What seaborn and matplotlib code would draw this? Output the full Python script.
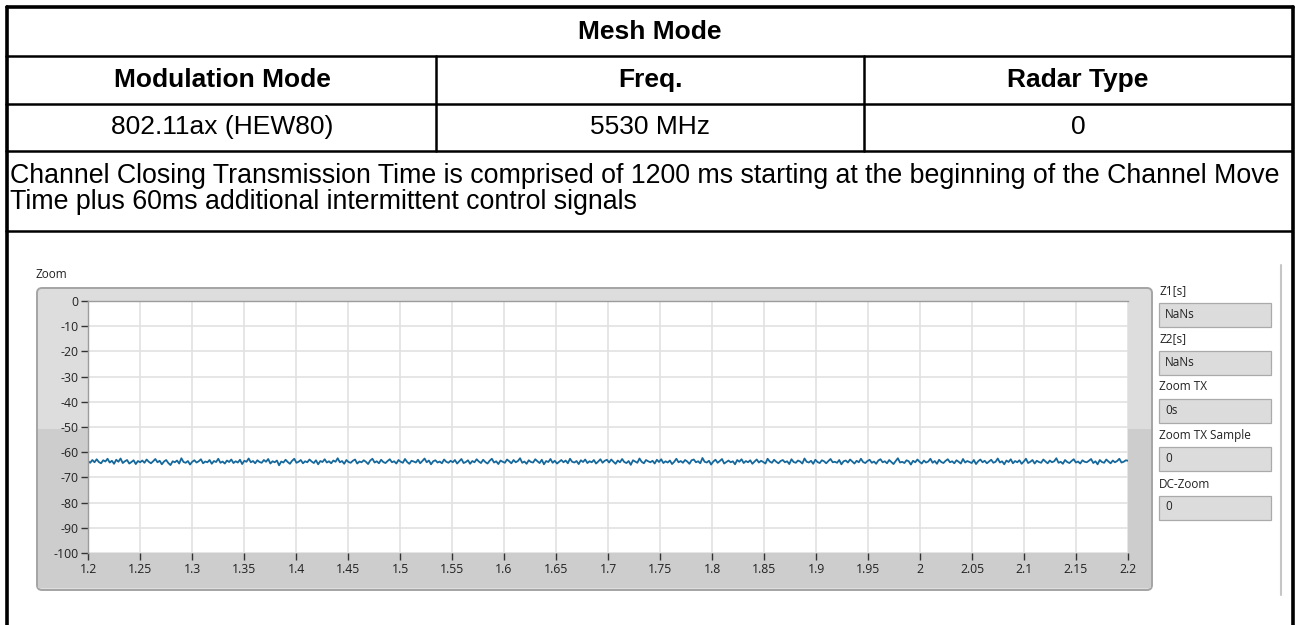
import numpy as np
import seaborn as sns
import matplotlib.pyplot as plt
from matplotlib.lines import Line2D
from matplotlib.patches import Rectangle, FancyBboxPatch

# table content
title = "Mesh Mode"
headers = ["Modulation Mode", "Freq.", "Radar Type"]
values_row = ["802.11ax (HEW80)", "5530 MHz", "0"]
description = ["Channel Closing Transmission Time is comprised of 1200 ms starting at the beginning of the Channel Move",
               "Time plus 60ms additional intermittent control signals"]

# zoom graph
t_start, t_end = 1.2, 2.2
y_ticks = [0, -10, -20, -30, -40, -50, -60, -70, -80, -90, -100]
x_ticks = [1.2, 1.25, 1.3, 1.35, 1.4, 1.45, 1.5, 1.55, 1.6, 1.65, 1.7, 1.75, 1.8, 1.85, 1.9, 1.95,
           2.0, 2.05, 2.1, 2.15, 2.2]
level = [
    -63.5, -64.2, -63.1, -64.0, -62.8, -63.9, -64.4, -63.2, -63.7, -62.6, -64.1, -63.4, -64.6, -63.0, -63.8, -62.5, -64.3, -63.6, -63.1, -64.5,
    -63.9, -63.2, -64.7, -63.5, -64.0, -63.3, -64.2, -62.9, -63.8, -64.4, -63.6, -62.7, -64.0, -63.4, -64.8, -63.7, -63.1, -64.3, -65.1, -63.6,
    -64.0, -63.3, -64.5, -62.4, -63.9, -64.2, -63.5, -64.9, -63.8, -63.2, -64.1, -63.6, -62.8, -64.4, -63.7, -64.0, -63.1, -64.6, -63.5, -63.9,
    -62.6, -64.2, -63.7, -64.5, -63.3, -63.9, -62.9, -64.3, -63.6, -64.1, -63.0, -64.7, -63.4, -63.8, -62.5, -64.0, -63.5, -64.4, -63.2, -63.9,
    -64.2, -63.1, -63.8, -62.7, -64.5, -63.6, -64.0, -63.3, -65.2, -63.7, -64.1, -63.0, -63.9, -64.6, -63.4, -62.6, -64.2, -63.8, -63.1, -64.4,
    -63.6, -64.0, -62.9, -63.7, -64.3, -63.2, -64.8, -63.5, -63.9, -62.8, -64.1, -63.6, -64.4, -63.3, -63.8, -62.4, -64.0, -63.5, -64.6, -63.1,
    -63.9, -64.2, -63.4, -62.9, -64.5, -63.7, -64.0, -63.2, -63.8, -64.7, -63.3, -62.6, -64.1, -63.6, -64.4, -63.0, -63.9, -64.3, -63.5, -62.8,
    -64.0, -63.6, -64.5, -63.1, -63.8, -64.2, -62.7, -63.9, -64.6, -63.4, -63.7, -64.1, -63.0, -64.4, -63.5, -62.5, -64.0, -63.3, -64.8, -63.6,
    -63.2, -64.1, -63.7, -64.4, -62.9, -63.8, -64.2, -63.4, -64.0, -63.1, -64.5, -63.6, -62.7, -64.3, -63.9, -63.2, -64.6, -63.5, -64.0, -62.8,
    -63.7, -64.3, -63.0, -63.9, -64.5, -63.4, -62.6, -64.1, -63.6, -64.7, -63.3, -63.8, -64.2, -62.9, -63.6, -64.4, -63.1, -64.0, -63.5, -62.4,
    -64.2, -63.7, -64.6, -63.2, -63.9, -64.1, -62.8, -63.6, -64.3, -63.0, -64.8, -63.5, -63.9, -62.7, -64.2, -63.4, -64.5, -63.8, -63.1, -64.0,
    -63.3, -64.4, -62.6, -63.8, -64.1, -63.5, -64.7, -63.2, -63.9, -62.9, -64.3, -63.6, -64.0, -63.1, -64.5, -63.7, -62.8, -64.2, -63.4, -63.0,
    -64.1, -62.9, -63.8, -64.6, -63.3, -64.0, -62.7, -63.9, -64.3, -63.5, -65.0, -63.2, -63.7, -64.2, -62.5, -63.8, -64.4, -63.1, -63.6, -64.0,
    -63.4, -64.5, -63.0, -63.9, -62.8, -64.3, -63.6, -64.1, -63.3, -64.7, -63.8, -62.6, -64.0, -63.5, -64.2, -63.1, -63.7, -64.6, -63.2, -62.9,
    -64.0, -63.6, -64.4, -62.3, -63.8, -64.1, -63.4, -64.9, -63.7, -63.0, -64.2, -63.5, -62.7, -64.5, -63.9, -63.3, -64.0, -63.6, -64.8, -63.1,
    -63.8, -62.8, -64.3, -63.5, -64.0, -63.2, -64.6, -63.7, -62.9, -64.1, -63.4, -63.9, -64.5, -62.6, -63.7, -64.2, -63.0, -63.8, -64.4, -63.5,
    -63.1, -64.0, -63.6, -64.7, -62.8, -63.9, -64.2, -63.3, -63.7, -64.5, -62.5, -63.8, -64.1, -63.4, -64.6, -63.0, -63.9, -64.3, -63.2, -63.6,
    -64.4, -63.5, -62.7, -64.0, -63.8, -64.2, -63.1, -64.8, -63.6, -63.3, -64.1, -62.9, -63.7, -64.5, -63.4, -64.0, -62.6, -63.9, -64.3, -63.5,
    -63.0, -64.2, -63.7, -64.6, -63.3, -62.8, -64.0, -63.6, -64.4, -63.1, -63.9, -64.7, -63.5, -62.4, -64.1, -63.8, -64.3, -63.2, -63.6, -64.9,
    -63.4, -64.0, -62.9, -63.8, -64.5, -63.3, -64.1, -63.7, -62.6, -64.2, -63.5, -64.6, -63.0, -63.9, -64.3, -63.4, -62.8, -64.0, -63.6, -64.4,
    -63.2, -63.8, -64.5, -62.7, -64.1, -63.5, -63.9, -64.3, -63.1, -64.7, -63.6, -62.9, -64.0, -63.4, -64.4, -63.7, -63.0, -64.2, -63.8, -62.5,
    -64.1, -63.6, -64.8, -63.3, -63.9, -62.8, -64.4, -63.5, -64.0, -63.2, -64.6, -63.7, -62.6, -64.3, -63.8, -63.1, -64.5, -63.4, -63.9, -64.2,
    -62.9, -63.7, -64.4, -63.3, -64.0, -63.6, -62.4, -64.2, -63.8, -64.6, -63.1, -63.9, -64.3, -63.5, -62.8, -64.1, -63.7, -64.5, -63.2, -63.8,
    -64.0, -63.4, -62.7, -64.3, -63.6, -64.8, -63.1, -63.9, -64.2, -62.9, -63.7, -64.4, -63.3, -64.0, -63.5, -62.6, -64.1, -63.8, -63.2, -63.4,
]
times = np.linspace(t_start, t_end, len(level))

# side indicators
ind_labels = ["Z1[s]", "Z2[s]", "Zoom TX", "Zoom TX Sample", "DC-Zoom"]
ind_values = ["NaNs", "NaNs", "0s", "0", "0"]

W, H = 1295, 625
def fx(x):
    return x / W
def fy(y):
    return 1 - y / H

sns.set_style("white")
plt.rcParams['axes.unicode_minus'] = False
tbl_font = ['Liberation Sans', 'DejaVu Sans']
lv_font = ['Open Sans', 'DejaVu Sans']

fig = plt.figure(figsize=(W / 100, H / 100), dpi=100)
fig.patch.set_facecolor('white')

def hline(y, x0, x1, lw=1.8):
    fig.add_artist(Line2D([fx(x0), fx(x1)], [fy(y), fy(y)], color='black', lw=lw, transform=fig.transFigure))
def vline(x, y0, y1, lw=1.8):
    fig.add_artist(Line2D([fx(x), fx(x)], [fy(y0), fy(y1)], color='black', lw=lw, transform=fig.transFigure))

# table grid
hline(6.5, 6.5, 1292.5, lw=2.6)
vline(6.5, 6.5, 625, lw=2.6)
vline(1292.5, 6.5, 625, lw=2.6)
hline(55.5, 6, 1292)
hline(103.5, 6, 1292)
hline(150.5, 6, 1292)
hline(230.5, 6, 1292)
vline(436, 55.5, 150.5)
vline(864, 55.5, 150.5)

fs = 19
fig.text(fx(650), fy(32), title, ha='center', va='center', fontsize=fs, fontweight='bold',
         family=tbl_font, color='black')
col_x = [222, 650, 1078]
for cx, h, v in zip(col_x, headers, values_row):
    fig.text(fx(cx), fy(80), h, ha='center', va='center', fontsize=fs, fontweight='bold',
             family=tbl_font, color='black')
    fig.text(fx(cx), fy(127), v, ha='center', va='center', fontsize=fs, family=tbl_font, color='black')
fig.text(fx(10), fy(176), description[0], ha='left', va='center', fontsize=19.3, family=tbl_font, color='black')
fig.text(fx(10), fy(202), description[1], ha='left', va='center', fontsize=19.3, family=tbl_font, color='black')

# graph frame
fig.text(fx(35), fy(274), "Zoom", ha='left', va='center', fontsize=8.5, family=lv_font, color='#222222')
frame = FancyBboxPatch((fx(37), fy(590)), fx(1152 - 37), (590 - 288) / H,
                       boxstyle="round,pad=0,rounding_size=%f" % (5 / W), mutation_aspect=W / H,
                       facecolor='#dddddd', edgecolor='#a4a4a4', lw=1.4, transform=fig.transFigure)
fig.add_artist(frame)
fig.add_artist(Rectangle((fx(38), fy(588)), fx(1151 - 38), (588 - 429) / H,
                         facecolor='#cdcdcd', edgecolor='none', transform=fig.transFigure))
fig.add_artist(Line2D([fx(1281), fx(1281)], [fy(265), fy(595)], color='#c6c6c6', lw=1.5,
                      transform=fig.transFigure))

ax = fig.add_axes([fx(88), fy(553), (1128 - 88) / W, (553 - 301) / H])
ax.set_zorder(5)
ax.set_facecolor('white')
sns.lineplot(x=times, y=level, ax=ax, color='#15689c', lw=1.3, estimator=None, sort=False)
ax.set_xlim(t_start, t_end)
ax.set_ylim(-100, 0)
ax.set_xticks(x_ticks)
ax.set_xticklabels([f"{round(v, 2):g}" for v in x_ticks])
ax.set_yticks(y_ticks)
ax.set_yticklabels([str(v) for v in y_ticks])
ax.grid(True, color='#e2e2e2', lw=1.2)
ax.set_axisbelow(True)
for s in ['right', 'bottom']:
    ax.spines[s].set_visible(False)
for s in ['left', 'top']:
    ax.spines[s].set_color('#9c9c9c')
    ax.spines[s].set_linewidth(1.0)
ax.tick_params(axis='both', direction='out', length=5, width=1, color='#333333',
               labelsize=8.8, labelcolor='#222222', pad=2)
ax.tick_params(left=True, bottom=True)
for lab in ax.get_xticklabels() + ax.get_yticklabels():
    lab.set_family(lv_font)
ax.set_xlabel('')
ax.set_ylabel('')

# side indicators
label_y = [291, 339, 387, 435, 484]
for ly, lab, val in zip(label_y, ind_labels, ind_values):
    fig.text(fx(1159), fy(ly), lab, ha='left', va='center', fontsize=8.5, family=lv_font, color='#222222')
    fig.add_artist(Rectangle((fx(1159), fy(ly + 36)), fx(1271 - 1159), 24 / H,
                             facecolor='#dcdcdc', edgecolor='#aaaaaa', lw=0.9, transform=fig.transFigure))
    fig.text(fx(1165), fy(ly + 23), val, ha='left', va='center', fontsize=8.5, family=lv_font, color='#222222')

fig.savefig('out.png', dpi=100)
